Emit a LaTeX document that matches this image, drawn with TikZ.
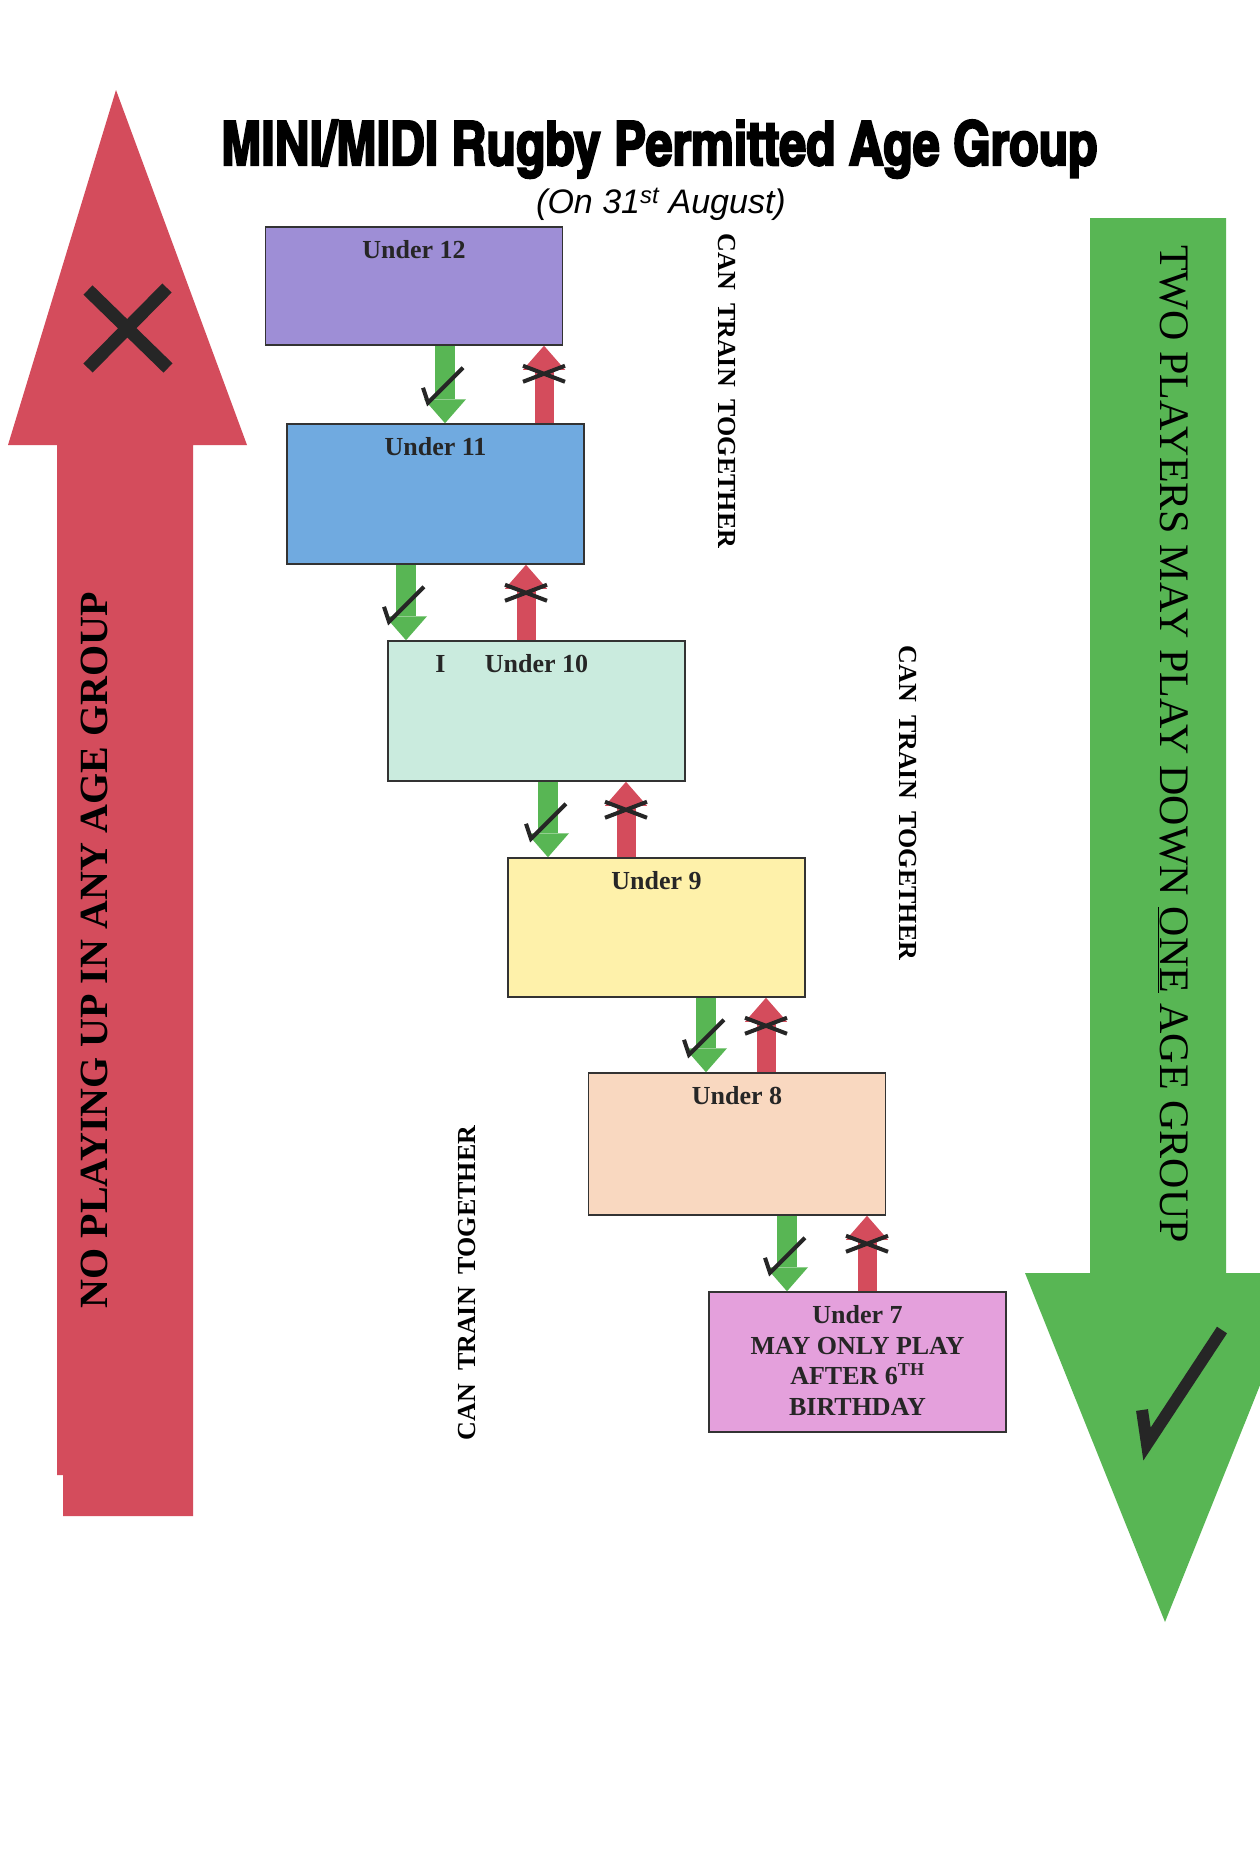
\documentclass[tikz,border=0pt]{standalone}
\usepackage{fontspec}
\setmainfont{Liberation Serif}
\newfontfamily\arialfont{Liberation Sans}
\newfontfamily\impactfont{texgyreheroscn-bold.otf}[FakeBold=3.5]
\usetikzlibrary{arrows.meta}

\definecolor{u12col}{RGB}{158,142,214}
\definecolor{u11col}{RGB}{112,170,224}
\definecolor{u10col}{RGB}{202,235,222}
\definecolor{u9col}{RGB}{254,241,170}
\definecolor{u8col}{RGB}{249,216,192}
\definecolor{u7col}{RGB}{228,160,220}
\definecolor{nored}{RGB}{212,76,92}
\definecolor{okgreen}{RGB}{88,182,84}

\tikzset{
  okmark/.pic={\draw[line width=4pt, black!85] (-22,42) -- (-17,57) -- (18,22);},
  nomark/.pic={\draw[line width=4pt, black!85] (-21,20) -- (21,36) (-21,36) -- (21,20);}
}

\begin{document}
\begin{tikzpicture}[x=1pt, y=-1pt, >=stealth,
    agebox/.style={draw=black!80, line width=1.5pt, minimum width=297pt},
    agelbl/.style={font=\fontsize{26}{30}\selectfont\bfseries, inner sep=0pt, anchor=base, text=black!85},
    godown/.style={draw=okgreen, line width=20pt, -{Triangle[width=42pt, length=24pt, line width=0pt]}},
    goup/.style={draw=nored, line width=19pt, -{Triangle[width=42pt, length=24pt, line width=0pt]}},
    traintext/.style={font=\fontsize{26}{30}\selectfont\bfseries, inner sep=0pt, anchor=base}]

    % Page
    \path[use as bounding box, fill=white] (0,0) rectangle (1260,1874);
    \clip (0,0) rectangle (1260,1874);

    % Title
    \node[anchor=base west, inner sep=0pt] (title) at (221,165)
        {\resizebox{876pt}{45pt}{\impactfont MINI/MIDI Rugby Permitted Age Group}};
    \node[anchor=base, inner sep=0pt, font=\arialfont\itshape\fontsize{34}{40}\selectfont] (date) at (661,213)
        {(On 31\textsuperscript{st} August)};

    % LEFT PART: big red arrow
    \fill[nored] (116,90) -- (247,445) -- (193,445) -- (193,1516) -- (63,1516) -- (63,1475)
        -- (57,1475) -- (57,445) -- (8,445) -- cycle;
    \draw[line width=13pt, black!85] (88,290) -- (168,368) (167,288) -- (88,368);
    \node[rotate=90, anchor=base, inner sep=0pt, font=\fontsize{40}{44}\selectfont\bfseries] (noplay) at (107,950)
        {NO PLAYING UP IN ANY AGE GROUP};

    % RIGHT PART: big green arrow
    \fill[okgreen] (1090,218) -- (1226,218) -- (1226,1273) -- (1305,1273) -- (1165,1622)
        -- (1025,1273) -- (1090,1273) -- cycle;
    \draw[line width=12pt, black!85] (1142,1410) -- (1147,1444) -- (1222,1330);
    \node[rotate=-90, anchor=base, inner sep=0pt, font=\fontsize{42}{46}\selectfont] (playdown) at (1160,744)
        {TWO PLAYERS MAY PLAY DOWN \underline{ONE} AGE GROUP};

    % Age group boxes
    \node[agebox, fill=u12col, minimum height=118pt] (u12) at (414,286) {};
    \node[agebox, fill=u11col, minimum height=140pt] (u11) at (435.5,494) {};
    \node[agebox, fill=u10col, minimum height=140pt] (u10) at (536.5,711) {};
    \node[agebox, fill=u9col, minimum height=139pt] (u9) at (656.5,927.5) {};
    \node[agebox, fill=u8col, minimum height=142pt] (u8) at (737,1144) {};
    \node[agebox, fill=u7col, minimum height=140pt] (u7) at (857.5,1362) {};

    % Labels in boxes
    \node[agelbl] (u12lbl) at ([yshift=-32pt]u12.north) {Under 12};
    \node[agelbl] (u11lbl) at ([yshift=-32pt]u11.north) {Under 11};
    \node[agelbl] (u10lbl) at ([yshift=-32pt]u10.north) {Under 10};
    \node[agelbl] (u10mark) at ([xshift=-96pt]u10lbl.base) {I};
    \node[agelbl] (u9lbl) at ([yshift=-32pt]u9.north) {Under 9};
    \node[agelbl] (u8lbl) at ([yshift=-32pt]u8.north) {Under 8};
    \node[agelbl, anchor=north, align=center, font=\fontsize{26}{30.5}\selectfont\bfseries] (u7lbl)
        at ([yshift=-14pt]u7.north) {Under 7\\MAY ONLY PLAY\\AFTER 6\textsuperscript{TH}\\BIRTHDAY};

    % Down (allowed) and up (not allowed) arrows
    \draw[godown] (445,0 |- u12.south) -- (445,0 |- u11.north);
    \draw[goup] (544,0 |- u11.north) -- (544,0 |- u12.south);
    \pic at (445,0 |- u12.south) {okmark};
    \pic at (544,0 |- u12.south) {nomark};

    \draw[godown] (406,0 |- u11.south) -- (406,0 |- u10.north);
    \draw[goup] (526,0 |- u10.north) -- (526,0 |- u11.south);
    \pic at (406,0 |- u11.south) {okmark};
    \pic at (526,0 |- u11.south) {nomark};

    \draw[godown] (548,0 |- u10.south) -- (548,0 |- u9.north);
    \draw[goup] (626,0 |- u9.north) -- (626,0 |- u10.south);
    \pic at (548,0 |- u10.south) {okmark};
    \pic at (626,0 |- u10.south) {nomark};

    \draw[godown] (706,0 |- u9.south) -- (706,0 |- u8.north);
    \draw[goup] (766,0 |- u8.north) -- (766,0 |- u9.south);
    \pic at (706,0 |- u9.south) {okmark};
    \pic at (766,0 |- u9.south) {nomark};

    \draw[godown] (787,0 |- u8.south) -- (787,0 |- u7.north);
    \draw[goup] (867,0 |- u7.north) -- (867,0 |- u8.south);
    \pic at (787,0 |- u8.south) {okmark};
    \pic at (867,0 |- u8.south) {nomark};

    % Training notes
    \node[traintext, rotate=-90] (train1) at (718,391) {CAN\ \ TRAIN\ \ TOGETHER};
    \node[traintext, rotate=-90] (train2) at (899,803) {CAN\ \ TRAIN\ \ TOGETHER};
    \node[traintext, rotate=90] (train3) at (475,1283) {CAN\ \ TRAIN\ \ TOGETHER};

\end{tikzpicture}
\end{document}
